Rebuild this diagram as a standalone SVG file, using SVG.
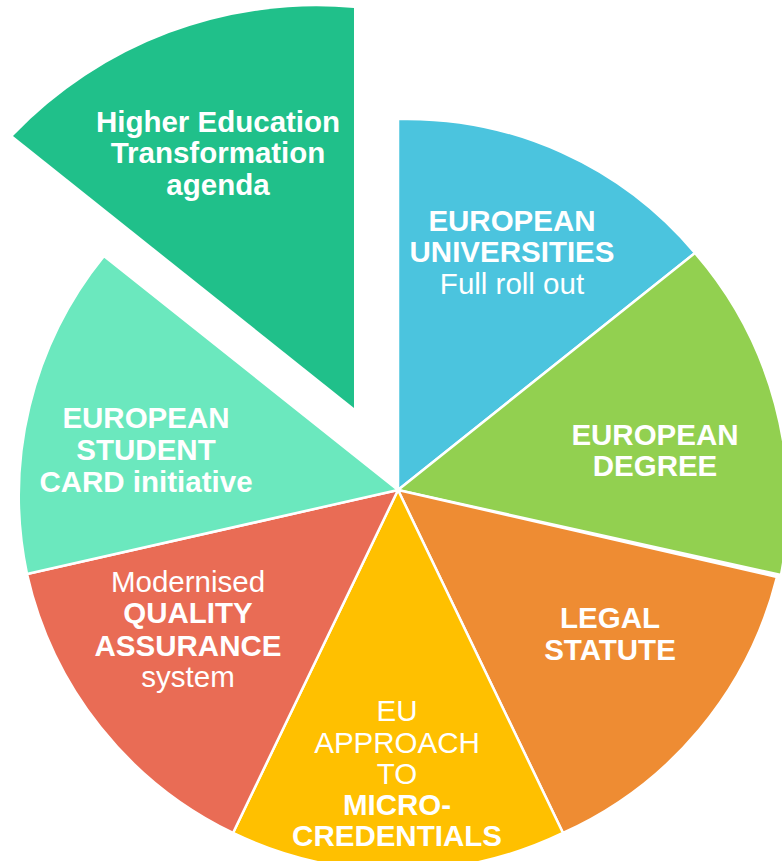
<svg xmlns="http://www.w3.org/2000/svg" width="782" height="861" viewBox="0 0 782 861">
<style>
.s{stroke:#fff;stroke-width:2.5;stroke-linejoin:round}
text{font-family:"Liberation Sans",Arial,sans-serif;font-size:29.5px;fill:#fff;text-anchor:middle}
.b{font-weight:bold}
</style>
<rect width="782" height="861" fill="#fff"/>
<g id="he-transformation">
<path d="M354 408 L354 8 A420 420 0 0 0 13 136 Z" fill="#20C08A"/>
<text class="b" x="218" y="132">Higher Education</text>
<text class="b" x="218" y="163">Transformation</text>
<text class="b" x="218" y="195">agenda</text>
</g>
<g id="european-universities">
<path class="s" d="M398 490 L398 119 A376 376 0 0 1 695 253 Z" fill="#4BC4DE"/>
<text class="b" x="512" y="231">EUROPEAN</text>
<text class="b" x="512" y="262">UNIVERSITIES</text>
<text x="512" y="294">Full roll out</text>
</g>
<g id="european-degree">
<path class="s" d="M398 490 L695 253 A380 380 0 0 1 781 575 Z" fill="#92D050"/>
<text class="b" x="655" y="445">EUROPEAN</text>
<text class="b" x="655" y="476">DEGREE</text>
</g>
<g id="legal-statute">
<path class="s" d="M398 490 L777 577 A382 382 0 0 1 563 833 Z" fill="#EE8C33"/>
<text class="b" x="610" y="628">LEGAL</text>
<text class="b" x="610" y="660">STATUTE</text>
</g>
<g id="micro-credentials">
<path class="s" d="M398 490 L563 833 A380 380 0 0 1 233 833 Z" fill="#FFC000"/>
<text x="397" y="721">EU</text>
<text x="397" y="753">APPROACH</text>
<text x="397" y="784">TO</text>
<text class="b" x="397" y="815">MICRO-</text>
<text class="b" x="397" y="846">CREDENTIALS</text>
</g>
<g id="quality-assurance">
<path class="s" d="M398 490 L233 833 A380 380 0 0 1 27 574 Z" fill="#E96C55"/>
<text x="188" y="592">Modernised</text>
<text class="b" x="188" y="623">QUALITY</text>
<text class="b" x="188" y="656">ASSURANCE</text>
<text x="188" y="687">system</text>
</g>
<g id="student-card">
<path class="s" d="M398 490 L27 574 A380 380 0 0 1 104 256 Z" fill="#6BE8BE"/>
<text class="b" x="146" y="428">EUROPEAN</text>
<text class="b" x="146" y="460">STUDENT</text>
<text class="b" x="146" y="492">CARD initiative</text>
</g>
<g id="connectors"/>
</svg>
